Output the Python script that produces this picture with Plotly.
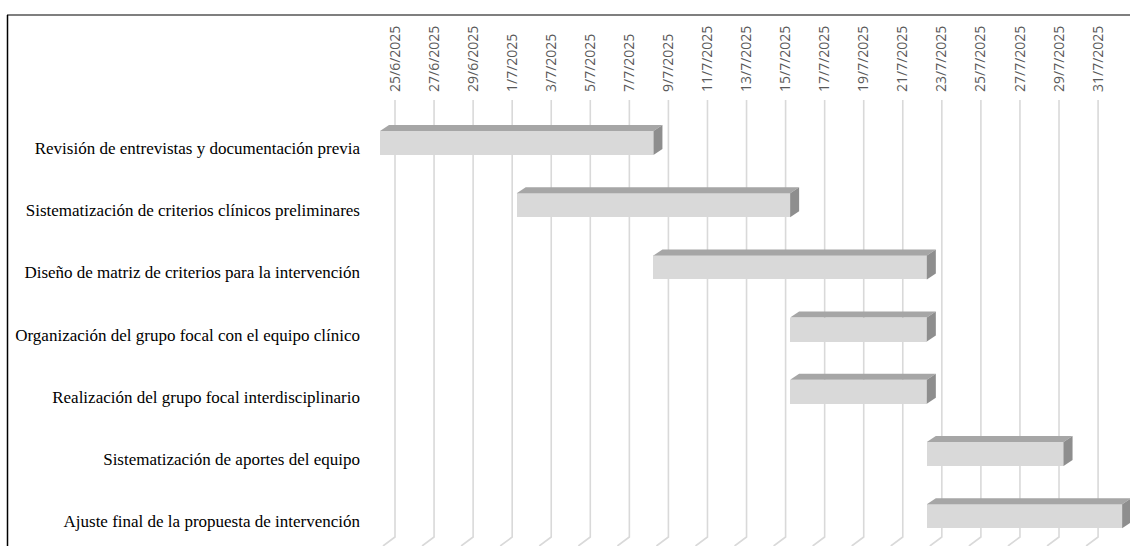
from datetime import datetime, timedelta

import plotly.graph_objects as go

# ---- chart data -------------------------------------------------------------
tasks = [
    "Revisión de entrevistas y documentación previa",
    "Sistematización de criterios clínicos preliminares",
    "Diseño de matriz de criterios para la intervención",
    "Organización del grupo focal con el equipo clínico",
    "Realización del grupo focal interdisciplinario",
    "Sistematización de aportes del equipo",
    "Ajuste final de la propuesta de intervención",
]
start_dates = ["2025-06-25", "2025-07-02", "2025-07-09", "2025-07-16",
               "2025-07-16", "2025-07-23", "2025-07-23"]
end_dates = ["2025-07-09", "2025-07-16", "2025-07-23", "2025-07-23",
             "2025-07-23", "2025-07-30", "2025-08-02"]
first_tick = "2025-06-25"
last_tick = "2025-07-31"
tick_step_days = 2

# ---- geometry / style -------------------------------------------------------
W, H = 1130, 546
M_L, M_R, M_T, M_B = 370, 0, 100, 0
PLOT_W = W - M_L - M_R
PLOT_H = H - M_T - M_B
DAY_PX = 19.53            # horizontal scale
ROW_PX = 62.2             # vertical scale per task row
FRONT_SHIFT_PX = 15       # bars' front face sits in front of the back wall
DEPTH_X_PX, DEPTH_Y_PX = 9, 6
BAR_H_PX = 24
FLOOR_DX_PX, FLOOR_DY_PX = 12, 9

FRONT = "#d9d9d9"
TOP = "#a6a6a6"
SIDE = "#8e8e8e"
GRID = "#d9d9d9"


def d(s):
    return datetime.strptime(s, "%Y-%m-%d")


t0 = d(first_tick)
grid_left = t0 - timedelta(days=25 / DAY_PX)
grid_right = grid_left + timedelta(days=PLOT_W / DAY_PX)
shift = timedelta(days=FRONT_SHIFT_PX / DAY_PX)
bar_left, bar_right = grid_left + shift, grid_right + shift

y_top = -43 / ROW_PX
y_bottom = y_top + PLOT_H / ROW_PX
y_floor = y_bottom - FLOOR_DY_PX / ROW_PX

half = BAR_H_PX / ROW_PX / 2
dx = timedelta(days=DEPTH_X_PX / DAY_PX)
dy = DEPTH_Y_PX / ROW_PX

fig = go.Figure()

# back-wall gridlines with their floor return
gx, gy = [], []
t = t0
while t <= d(last_tick):
    gx += [t, t, t - timedelta(days=FLOOR_DX_PX / DAY_PX), None]
    gy += [y_top, y_floor, y_bottom, None]
    t += timedelta(days=tick_step_days)
fig.add_trace(go.Scatter(x=gx, y=gy, mode="lines", xaxis="x", yaxis="y",
                         line=dict(color=GRID, width=1.6),
                         hoverinfo="skip", showlegend=False))

# front faces
durations = [(d(e) - d(s)).total_seconds() * 1000 for s, e in zip(start_dates, end_dates)]
fig.add_trace(go.Bar(
    orientation="h", base=start_dates, x=durations, y=list(range(len(tasks))),
    width=2 * half, xaxis="x2", yaxis="y",
    marker=dict(color=FRONT, line=dict(width=0)),
    hoverinfo="skip", showlegend=False,
))

# top and side faces of each box
for i, (s, e) in enumerate(zip(start_dates, end_dates)):
    s_, e_ = d(s), d(e)
    top_y = i - half
    fig.add_trace(go.Scatter(
        x=[s_, s_ + dx, e_ + dx, e_, s_],
        y=[top_y, top_y - dy, top_y - dy, top_y, top_y],
        fill="toself", fillcolor=TOP, mode="lines", line=dict(width=0, color=TOP),
        xaxis="x2", yaxis="y", hoverinfo="skip", showlegend=False))
    fig.add_trace(go.Scatter(
        x=[e_, e_ + dx, e_ + dx, e_, e_],
        y=[top_y, top_y - dy, i + half - dy, i + half, top_y],
        fill="toself", fillcolor=SIDE, mode="lines", line=dict(width=0, color=SIDE),
        xaxis="x2", yaxis="y", hoverinfo="skip", showlegend=False))

fx = lambda px: (px - M_L) / PLOT_W
fy = lambda py: 1 - (py - M_T) / PLOT_H

fig.update_layout(
    width=W, height=H,
    margin=dict(l=M_L, r=M_R, t=M_T, b=M_B),
    paper_bgcolor="white", plot_bgcolor="white",
    bargap=0,
    xaxis=dict(
        type="date", side="top", range=[grid_left, grid_right],
        tick0=first_tick, dtick=tick_step_days * 86400000,
        tickformat="%-d/%-m/%Y", tickangle=-90,
        tickfont=dict(family="Open Sans", size=14, color="#595959"),
        showgrid=False, zeroline=False, showline=False, ticks="",
        ticklabelstandoff=7, fixedrange=True,
    ),
    xaxis2=dict(
        type="date", overlaying="x", range=[bar_left, bar_right],
        visible=False, fixedrange=True,
    ),
    yaxis=dict(
        range=[y_bottom, y_top],
        tickvals=list(range(len(tasks))), ticktext=tasks,
        tickfont=dict(family="Liberation Serif", size=17, color="#000000"),
        showgrid=False, zeroline=False, showline=False, ticks="",
        ticklabelstandoff=9, ticklabelshift=-5, fixedrange=True,
    ),
    shapes=[
        dict(type="line", xref="paper", yref="paper",
             x0=fx(7), x1=1.01, y0=fy(15), y1=fy(15),
             line=dict(color="#7f7f7f", width=2)),
        dict(type="line", xref="paper", yref="paper",
             x0=fx(7.5), x1=fx(7.5), y0=fy(15), y1=-0.05,
             line=dict(color="#000000", width=1.5)),
    ],
)

fig.write_html("out.html")
